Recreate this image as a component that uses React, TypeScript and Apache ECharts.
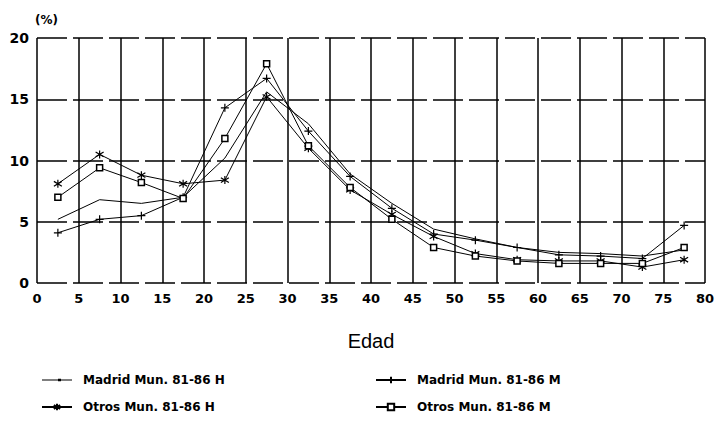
import React, { useEffect, useRef } from "react";
import * as echarts from "echarts";

const ages = [2.5, 7.5, 12.5, 17.5, 22.5, 27.5, 32.5, 37.5, 42.5, 47.5, 52.5, 57.5, 62.5, 67.5, 72.5, 77.5];
const madridH = [5.2, 6.8, 6.5, 7.0, 10.2, 15.6, 13.0, 8.9, 6.5, 4.4, 3.6, 2.9, 2.5, 2.4, 2.2, 2.7];
const madridM = [4.1, 5.2, 5.5, 7.0, 14.3, 16.7, 12.4, 8.7, 6.1, 4.0, 3.5, 2.9, 2.3, 2.2, 2.0, 4.7];
const otrosH = [8.1, 10.5, 8.8, 8.1, 8.4, 15.2, 11.0, 7.6, 5.6, 3.8, 2.4, 1.9, 1.8, 1.8, 1.3, 1.9];
const otrosM = [7.0, 9.4, 8.2, 6.9, 11.8, 17.9, 11.2, 7.8, 5.2, 2.9, 2.2, 1.8, 1.6, 1.6, 1.6, 2.9];
const seriesNames = ["Madrid Mun. 81-86 H", "Madrid Mun. 81-86 M", "Otros Mun. 81-86 H", "Otros Mun. 81-86 M"];

const FONT = "DejaVu Sans";
const PLUS = "path://M5,0L5,10M0,5L10,5";
const STAR = "path://M5,0L5,10M0,2L10,8M0,8L10,2";
const TICK =
  "path://M0,3.5L30,3.5L30,4.5L0,4.5Z M14,0L14.01,0L14,0.01Z M14,8L14.01,8L14,7.99Z M16,2.8L19,2.8L19,5.2L16,5.2Z";

function pairs(vals: number[]) {
  return ages.map((a, i) => [a, vals[i]]);
}

export default function App() {
  const ref = useRef<HTMLDivElement>(null);
  useEffect(() => {
    if (!ref.current) return;
    const chart = echarts.init(ref.current, undefined, { renderer: "svg" });
    const base = {
      type: "line",
      lineStyle: { color: "#000", width: 1 },
      itemStyle: { color: "#000", borderColor: "#000", borderWidth: 1.2 },
      showAllSymbol: true,
      emphasis: { disabled: true },
    };
    const legendCommon = {
      top: 369,
      orient: "vertical",
      itemGap: 15,
      itemWidth: 30,
      itemHeight: 8,
      selectedMode: false,
      textStyle: {
        fontFamily: FONT,
        fontWeight: "bold",
        fontSize: 12,
        color: "#000",
        padding: [0, 0, 0, 6],
      },
    };
    chart.setOption({
      animation: false,
      backgroundColor: "#fff",
      grid: { left: 37, right: 13, top: 38, bottom: 141, show: false },
      graphic: [
        {
          type: "text",
          left: 35,
          top: 14,
          style: { text: "(%)", font: `bold 12px '${FONT}'`, fill: "#000" },
        },
      ],
      legend: [
        {
          ...legendCommon,
          left: 36,
          data: [{ name: seriesNames[0], icon: TICK, itemStyle: { borderWidth: 0 } }, seriesNames[2]],
        },
        { ...legendCommon, left: 370, data: [seriesNames[1], seriesNames[3]] },
      ],
      xAxis: {
        type: "value",
        min: 0,
        max: 80,
        interval: 5,
        name: "Edad",
        nameLocation: "middle",
        nameGap: 48,
        nameTextStyle: { fontFamily: "Liberation Sans", fontSize: 20, color: "#000" },
        axisLine: { show: false },
        axisTick: { show: false },
        axisLabel: { fontFamily: FONT, fontWeight: "bold", fontSize: 13, color: "#000", margin: 9 },
        splitLine: { show: true, lineStyle: { color: "#000", width: 1.5, type: "solid" } },
      },
      yAxis: {
        type: "value",
        min: 0,
        max: 20,
        interval: 5,
        axisLine: { show: false },
        axisTick: { show: false },
        axisLabel: { fontFamily: FONT, fontWeight: "bold", fontSize: 14, color: "#000", margin: 8 },
        splitLine: { show: true, lineStyle: { color: "#000", width: 1.5, type: [30, 6] } },
      },
      series: [
        { ...base, name: seriesNames[0], data: pairs(madridH), symbol: "none" },
        { ...base, name: seriesNames[1], data: pairs(madridM), symbol: PLUS, symbolSize: 8 },
        { ...base, name: seriesNames[2], data: pairs(otrosH), symbol: STAR, symbolSize: 8 },
        {
          ...base,
          name: seriesNames[3],
          data: pairs(otrosM),
          symbol: "rect",
          symbolSize: 6,
          itemStyle: { color: "#fff", borderColor: "#000", borderWidth: 1.5 },
        },
      ],
    });
    return () => chart.dispose();
  }, []);
  return <div ref={ref} style={{ position: "fixed", left: 0, top: 0, width: 718, height: 424 }} />;
}
